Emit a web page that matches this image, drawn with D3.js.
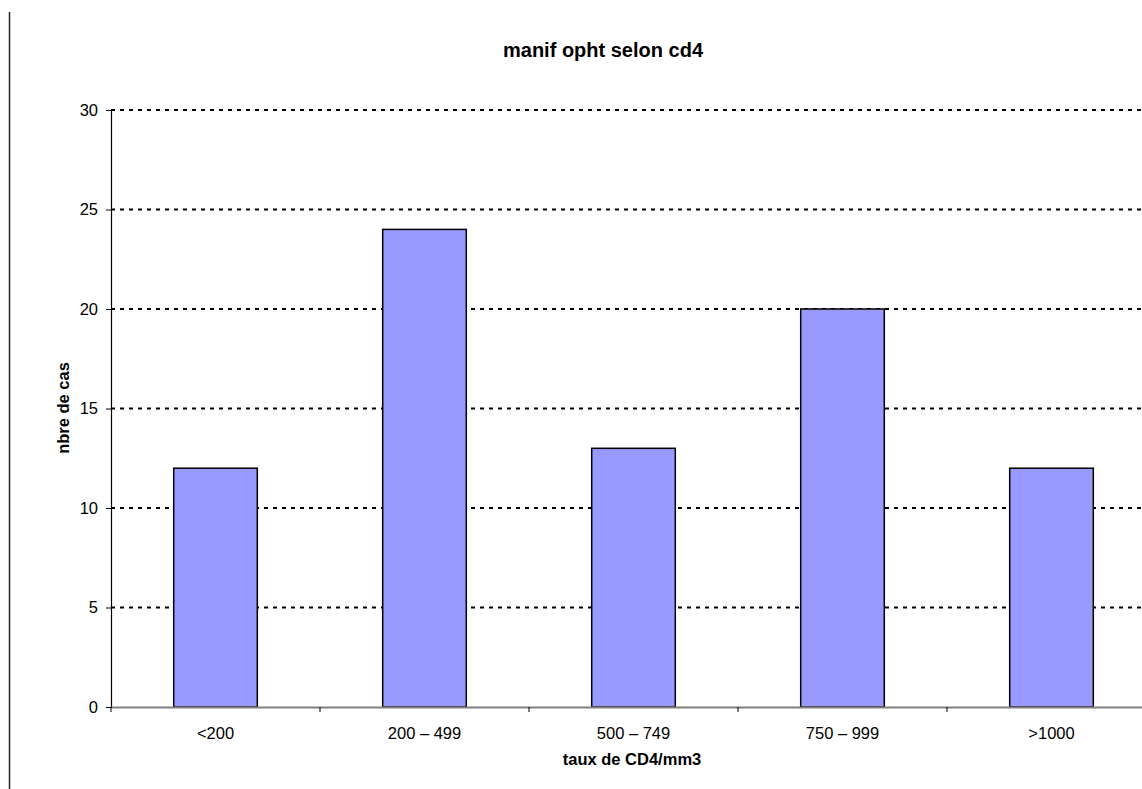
<!DOCTYPE html>
<html>
<head>
<meta charset="utf-8">
<script src="https://cdn.jsdelivr.net/npm/d3@7/dist/d3.min.js"></script>
<style>
  html, body { margin: 0; padding: 0; background: #fff; }
  svg { display: block; font-family: "Liberation Sans", Arial, sans-serif; }
</style>
</head>
<body>
<svg id="chart" width="1142" height="789"></svg>
<script>
// CD4 count ranges and number of cases
const categories = ["<200", "200 – 499", "500 – 749", "750 – 999", ">1000"];
const cases = [12, 24, 13, 20, 12];
const yTicks = [0, 5, 10, 15, 20, 25, 30];

const svg = d3.select("#chart");
const plot = { left: 111, right: 1156, top: 110, bottom: 707 };

const x = d3.scaleBand()
  .domain(categories)
  .range([plot.left, plot.right])
  .paddingInner(0.6)
  .paddingOuter(0.3);

const y = d3.scaleLinear().domain([0, 30]).range([plot.bottom, plot.top]);

// frame line on the left
svg.append("line")
  .attr("x1", 9.5).attr("x2", 9.5).attr("y1", 12).attr("y2", 789)
  .attr("stroke", "#222").attr("stroke-width", 1.5);

// dotted gridlines
svg.append("g")
  .selectAll("line")
  .data(yTicks.filter(d => d > 0))
  .join("line")
  .attr("x1", plot.left).attr("x2", plot.right)
  .attr("y1", d => y(d)).attr("y2", d => y(d))
  .attr("stroke", "#000")
  .attr("stroke-width", 2)
  .attr("stroke-dasharray", "4,5");

// bars
svg.append("g")
  .selectAll("rect")
  .data(categories.map((c, i) => ({ c, v: cases[i] })))
  .join("rect")
  .attr("x", d => x(d.c))
  .attr("y", d => y(d.v))
  .attr("width", x.bandwidth())
  .attr("height", d => y(0) - y(d.v))
  .attr("fill", "#9999ff")
  .attr("stroke", "#000")
  .attr("stroke-width", 1.5);

// y axis
const yAxis = svg.append("g")
  .attr("transform", `translate(${plot.left},0)`)
  .call(d3.axisLeft(y).tickValues(yTicks).tickSize(5).tickPadding(8));
yAxis.select(".domain").attr("stroke", "#000").attr("stroke-width", 1.2);
yAxis.selectAll(".tick line").attr("stroke", "#000");
yAxis.selectAll("text").attr("font-size", 16.5).attr("fill", "#000")
  .attr("font-family", "'Liberation Sans', Arial, sans-serif");

// x axis with ticks at band boundaries
const xAxis = svg.append("g")
  .attr("transform", `translate(0,${plot.bottom})`)
  .call(d3.axisBottom(x).tickSize(0).tickPadding(20));
xAxis.select(".domain").attr("stroke", "#808080").attr("stroke-width", 2);
xAxis.selectAll("text").attr("font-size", 16.5).attr("fill", "#000")
  .attr("font-family", "'Liberation Sans', Arial, sans-serif");

const step = x.step();
const bounds = d3.range(categories.length + 1).map(i => plot.left + i * (plot.right - plot.left) / categories.length);
svg.append("g")
  .selectAll("line")
  .data(bounds)
  .join("line")
  .attr("x1", d => d).attr("x2", d => d)
  .attr("y1", plot.bottom).attr("y2", plot.bottom + 5)
  .attr("stroke", "#000");

// titles
svg.append("text")
  .attr("x", 603).attr("y", 57)
  .attr("text-anchor", "middle")
  .attr("font-size", 20).attr("font-weight", "bold")
  .text("manif opht selon cd4");

svg.append("text")
  .attr("x", 632).attr("y", 765)
  .attr("text-anchor", "middle")
  .attr("font-size", 16.5).attr("font-weight", "bold")
  .text("taux de CD4/mm3");

svg.append("text")
  .attr("transform", `translate(69,408) rotate(-90)`)
  .attr("text-anchor", "middle")
  .attr("font-size", 16.5).attr("font-weight", "bold")
  .text("nbre de cas");
</script>
</body>
</html>
